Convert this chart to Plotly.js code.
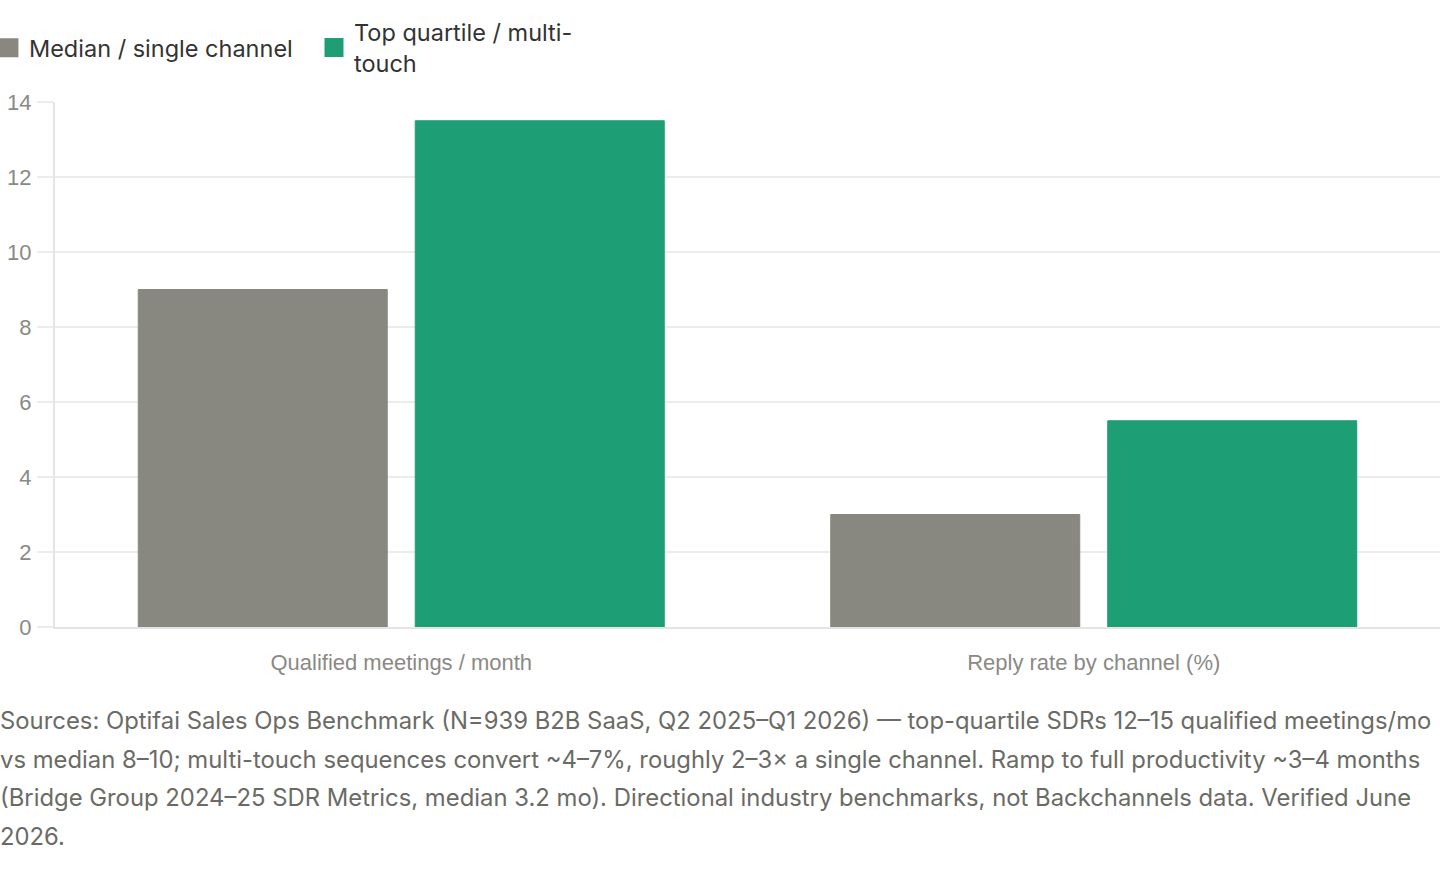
<!DOCTYPE html>
<html>
<head>
<meta charset="utf-8">
<script src="https://cdn.plot.ly/plotly-3.0.1.min.js"></script>
<style>
  body { margin: 0; background: #fff; }
  #plot { width: 1440px; height: 700px; }
  #caption {
    position: absolute; left: 0; top: 702px; width: 1440px;
    font-family: Inter, "Noto Sans", sans-serif; font-size: 23.85px;
    line-height: 38.5px; color: #6b6b66; white-space: nowrap;
  }
</style>
</head>
<body>
<div id="plot"></div>
<div id="caption">Sources: Optifai Sales Ops Benchmark (N=939 B2B SaaS, Q2 2025–Q1 2026) — top-quartile SDRs 12–15 qualified meetings/mo<br>vs median 8–10; multi-touch sequences convert ~4–7%, roughly 2–3× a single channel. Ramp to full productivity ~3–4 months<br>(Bridge Group 2024–25 SDR Metrics, median 3.2 mo). Directional industry benchmarks, not Backchannels data. Verified June<br>2026.</div>
<script>
const categories = ['Qualified meetings / month', 'Reply rate by channel (%)']
const seriesNames = ['Median / single channel', 'Top quartile / multi-<br>touch']
const medianValues = [9, 3]
const topValues = [13.5, 5.5]
const colors = ['#898880', '#1e9e74']
const legendIds = ['legend', 'legend2']

const bars = [medianValues, topValues].map((vals, i) => ({
    type: 'bar',
    x: categories,
    y: vals,
    name: seriesNames[i],
    marker: {color: colors[i], line: {color: colors[i], width: 1}},
    showlegend: false,
    hoverinfo: 'x+y'
}))

// legend-only entries so the swatches can be bigger than the bar icon
const keys = seriesNames.map((name, i) => ({
    type: 'scatter',
    mode: 'markers',
    x: [null],
    y: [null],
    name,
    legend: legendIds[i],
    marker: {symbol: 'square', size: 18, color: colors[i], line: {color: colors[i], width: 3}},
    hoverinfo: 'skip'
}))

const legendFont = {family: 'Inter, "Noto Sans", sans-serif', size: 23.5, color: '#333'}
const tickFont = {family: '"Liberation Sans", Arial, sans-serif', size: 22, color: '#8a8a85'}

const layout = {
    width: 1440,
    height: 700,
    margin: {l: 55, r: 0, t: 102, b: 73, autoexpand: false},
    paper_bgcolor: '#fff',
    plot_bgcolor: '#fff',
    barmode: 'group',
    bargap: 0.2,
    bargroupgap: 0.101,
    showlegend: true,
    legend: {
        x: -0.0477, xanchor: 'left',
        y: 1.1029, yanchor: 'middle',
        font: legendFont,
        itemwidth: 30
    },
    legend2: {
        x: 0.187, xanchor: 'left',
        y: 1.1029, yanchor: 'middle',
        font: legendFont,
        itemwidth: 30
    },
    xaxis: {
        showgrid: false,
        showline: true,
        linecolor: '#e4e4e4',
        linewidth: 2,
        ticks: '',
        ticklabelstandoff: 15,
        tickfont: tickFont,
        fixedrange: true
    },
    yaxis: {
        range: [0, 14],
        dtick: 2,
        showgrid: true,
        gridcolor: '#ececec',
        gridwidth: 2,
        showline: true,
        linecolor: '#e4e4e4',
        linewidth: 2,
        zeroline: false,
        ticks: 'outside',
        ticklen: 16,
        tickwidth: 2,
        tickcolor: '#ececec',
        ticklabelstandoff: 1,
        tickfont: tickFont,
        fixedrange: true
    }
}

Plotly.newPlot('plot', [...bars, ...keys], layout, {displayModeBar: false, responsive: false})
</script>
</body>
</html>
